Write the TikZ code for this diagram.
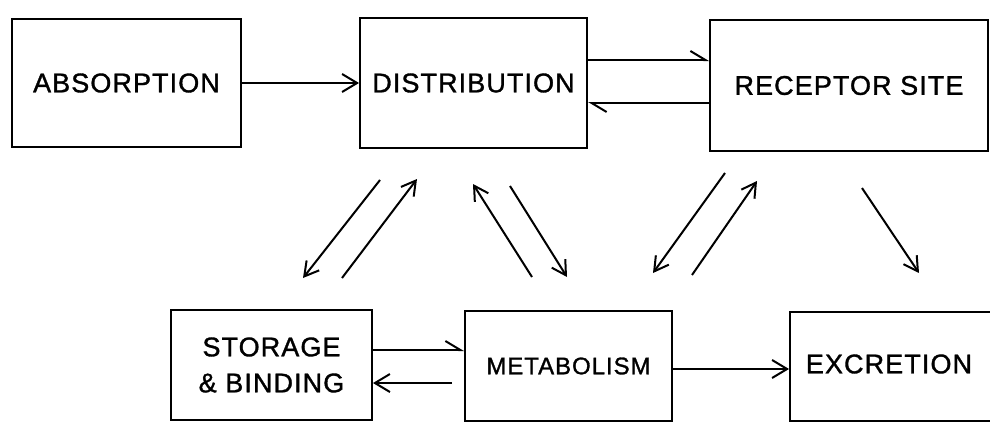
\documentclass[tikz,border=0pt]{standalone}
\usepackage{fontspec}
\setmainfont{Liberation Sans}[LetterSpace=4, FakeBold=1.2]
\usetikzlibrary{arrows.meta,calc}
\begin{document}
\begin{tikzpicture}[x=1pt,y=-1pt,
  box/.style={draw, line width=2pt, inner sep=0pt, align=center, font=\fontsize{27}{36}\selectfont},
  lbl/.style={inner sep=0pt, font=\fontsize{27}{36}\selectfont},
  arr/.style={line width=2pt, -{Straight Barb[length=15pt,width=18pt,line width=2pt]}},
  harp/.style={line width=2pt, -{Straight Barb[left,length=15pt,width=18pt,line width=2pt]}},
  darr/.style={line width=2pt, -{Straight Barb[length=14pt,width=16pt,line width=2pt]}}]
\useasboundingbox (0,0) rectangle (990,423);
\clip (0,0) rectangle (990,423);
% boxes
\node[box, minimum width=229pt, minimum height=128pt] (abs) at (126.5,83) {ABSORPTION};
\node[box, minimum width=227pt, minimum height=130pt] (dist) at (473.5,83) {DISTRIBUTION};
\node[box, minimum width=278pt, minimum height=131pt] (rec) at (849,85.5) {RECEPTOR SITE};
\node[box, minimum width=201pt, minimum height=110pt] (stor) at (271.5,365) {STORAGE\\\& BINDING};
\node[box, minimum width=207pt, minimum height=110pt, font=\fontsize{24}{28}\selectfont] (met) at (568.5,366) {METABOLISM};
\node[box, minimum width=220pt, minimum height=109pt] (exc) at (900,366.5) {};
\node[lbl] (excT) at (889,364) {EXCRETION};
% horizontal connectors
\draw[arr] (abs.east) -- (dist.west);
\draw[harp] ([yshift=23pt]dist.east) -- ([yshift=23pt]dist.east -| rec.west);
\draw[harp] ([yshift=-20pt]dist.east -| rec.west) -- ([yshift=-20pt]dist.east);
\draw[harp] ([yshift=15pt]stor.east) -- ([yshift=15pt]stor.east -| met.west);
\draw[arr, shorten <=12pt] ([yshift=-18pt]stor.east -| met.west) -- ([yshift=-18pt]stor.east);
\draw[arr] ([yshift=-3pt]met.east) -- ([yshift=-3pt]met.east -| exc.west);
% diagonal connectors
\coordinate (d1a) at (380,180); \coordinate (d1b) at (303,278);
\coordinate (d2a) at (342,278); \coordinate (d2b) at (417,179);
\coordinate (d3a) at (532,277); \coordinate (d3b) at (473,184);
\coordinate (d4a) at (510,186); \coordinate (d4b) at (567,277);
\coordinate (d5a) at (725,173); \coordinate (d5b) at (653,273);
\coordinate (d6a) at (692,275); \coordinate (d6b) at (757,181);
\coordinate (d7a) at (862,188); \coordinate (d7b) at (919,273);
\draw[darr] (d1a) -- (d1b);
\draw[darr] (d2a) -- (d2b);
\draw[darr] (d3a) -- (d3b);
\draw[darr] (d4a) -- (d4b);
\draw[darr] (d5a) -- (d5b);
\draw[darr] (d6a) -- (d6b);
\draw[darr] (d7a) -- (d7b);
\end{tikzpicture}
\end{document}
